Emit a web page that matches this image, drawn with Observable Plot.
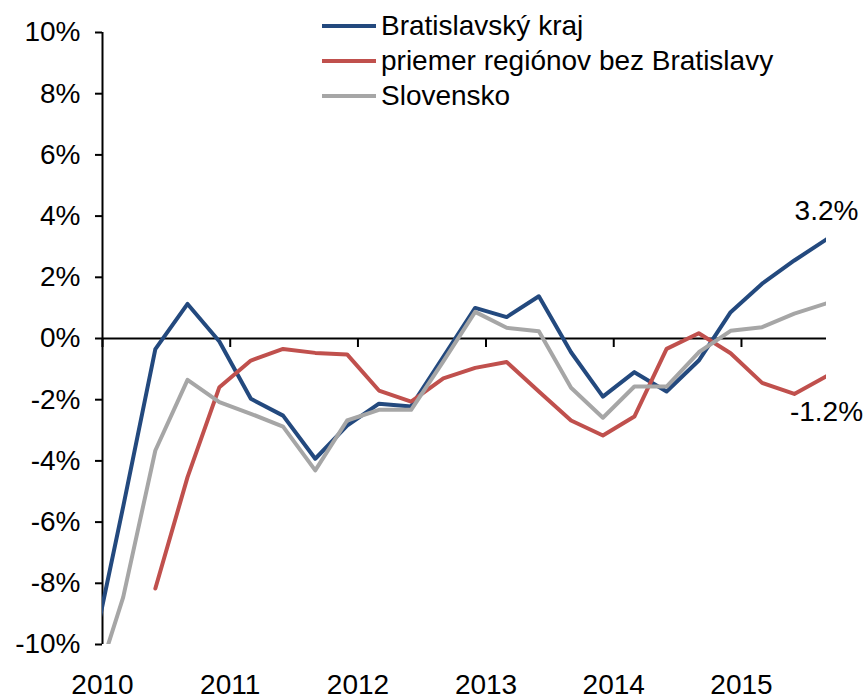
<!DOCTYPE html>
<html><head><meta charset="utf-8">
<script src="https://cdn.jsdelivr.net/npm/d3@7"></script>
<script src="https://cdn.jsdelivr.net/npm/@observablehq/plot@0.6"></script>
<style>
body{margin:0;background:#fff;font-family:"Liberation Sans",Arial,sans-serif;}
#wrap{position:relative;width:863px;height:700px;}
#legend{position:absolute;left:322px;top:8px;font-size:28px;color:#000;}
.row{display:flex;align-items:center;height:35px;white-space:nowrap;}
.sw{width:54px;height:4px;margin-right:5px;flex:none;}
</style></head><body>
<div id="wrap"><div id="chart"></div><div id="legend"></div></div>
<script>
// Quarterly observations (first one lies before the axis start and is clipped)
const quarters = ["2009-12-01","2010-03-01","2010-06-01","2010-09-01","2010-12-01",
  "2011-03-01","2011-06-01","2011-09-01","2011-12-01",
  "2012-03-01","2012-06-01","2012-09-01","2012-12-01",
  "2013-03-01","2013-06-01","2013-09-01","2013-12-01",
  "2014-03-01","2014-06-01","2014-09-01","2014-12-01",
  "2015-03-01","2015-06-01","2015-09-01"];
const seriesNames = ["Bratislavský kraj","priemer regiónov bez Bratislavy","Slovensko"];
const seriesColors = ["#23497e","#c0504d","#a6a6a6"];
const bratislava = [-10.4,-5.5,-0.35,1.13,-0.1,-1.97,-2.52,-3.93,-2.85,-2.13,-2.22,-0.6,1.0,0.7,1.38,-0.45,-1.9,-1.1,-1.73,-0.72,0.86,1.79,2.55,3.24];
const regions = [null,null,-8.17,-4.53,-1.59,-0.72,-0.34,-0.47,-0.52,-1.70,-2.06,-1.30,-0.96,-0.77,-1.73,-2.68,-3.17,-2.55,-0.34,0.17,-0.48,-1.45,-1.81,-1.23];
const slovensko = [-11.7,-8.46,-3.66,-1.35,-2.08,-2.46,-2.88,-4.31,-2.68,-2.33,-2.33,-0.75,0.87,0.35,0.24,-1.61,-2.59,-1.57,-1.57,-0.45,0.25,0.37,0.81,1.15];
const yTicks = [-10,-8,-6,-4,-2,0,2,4,6,8,10];
const yearTicks = ["2010","2011","2012","2013","2014","2015"];
const xStart = "2010-01-01", xEnd = "2015-09-01";

const parse = d3.utcParse("%Y-%m-%d");
const allValues = [bratislava, regions, slovensko];
const table = [];
seriesNames.forEach((name, s) => {
  quarters.forEach((q, i) => {
    const v = allValues[s][i];
    table.push({date: parse(q), value: v == null ? NaN : v, series: name});
  });
});
const yearDates = yearTicks.map(y => d3.utcParse("%Y")(y));
const lastIdx = quarters.length - 1;
const lastDate = parse(quarters[lastIdx]);
const fmt = d => d.value.toFixed(1) + "%";

const chart = Plot.plot({
  width: 863, height: 700,
  marginLeft: 102, marginRight: 37, marginTop: 32, marginBottom: 56,
  style: {fontFamily: '"Liberation Sans", Arial, sans-serif', fontSize: "28px", background: "#fff", color: "#000", overflow: "visible"},
  x: {type: "utc", domain: [parse(xStart), parse(xEnd)]},
  y: {domain: [-10, 10]},
  color: {domain: seriesNames, range: seriesColors},
  marks: [
    Plot.ruleY([0], {stroke: "#000", strokeWidth: 2}),
    Plot.ruleX(yearDates, {x: d => d, y1: 0, y2: 0, insetBottom: -9, stroke: "#000", strokeWidth: 2}),
    Plot.ruleX([parse(xStart)], {stroke: "#000", strokeWidth: 2}),
    Plot.axisY({ticks: yTicks, tickFormat: d => d + "%", tickSize: 7, tickPadding: 15, fontSize: 28, strokeWidth: 2, label: null}),
    Plot.axisX({ticks: yearDates, tickFormat: d3.utcFormat("%Y"), tickSize: 0, tickPadding: 30, fontSize: 28, label: null}),
    ...seriesNames.map(name => Plot.line(table.filter(d => d.series === name), {
      x: "date", y: "value", stroke: "series", strokeWidth: 4, strokeLinejoin: "round", clip: true
    })),
    Plot.text([{date: lastDate, value: bratislava[lastIdx]}], {x: "date", y: "value", dy: -28, text: fmt, fontSize: 28, fill: "#000"}),
    Plot.text([{date: lastDate, value: regions[lastIdx]}], {x: "date", y: "value", dy: 36, text: fmt, fontSize: 28, fill: "#000"})
  ]
});
document.getElementById("chart").appendChild(chart);

const legend = document.getElementById("legend");
seriesNames.forEach((name, i) => {
  const row = document.createElement("div");
  row.className = "row";
  const sw = document.createElement("span");
  sw.className = "sw";
  sw.style.background = seriesColors[i];
  const tx = document.createElement("span");
  tx.textContent = name;
  row.appendChild(sw); row.appendChild(tx);
  legend.appendChild(row);
});
</script>
</body></html>
